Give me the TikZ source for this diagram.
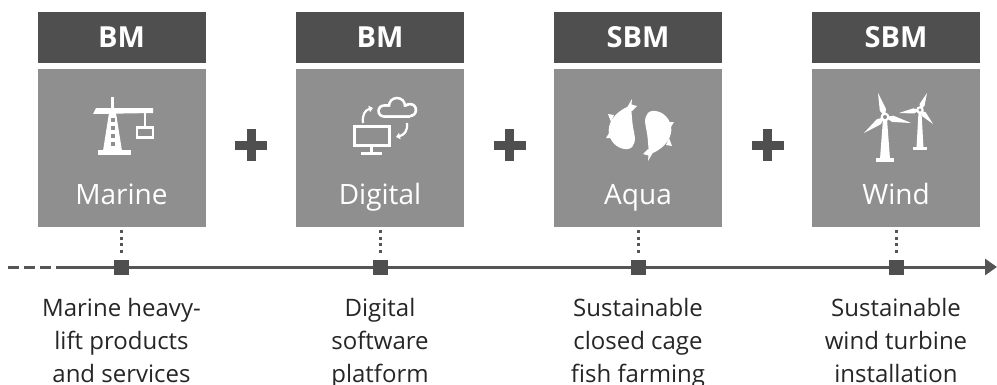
\documentclass[tikz,border=0pt]{standalone}
\usepackage{fontspec}
\setmainfont{Open Sans}
\usetikzlibrary{calc,arrows.meta}
\definecolor{hdr}{HTML}{4F4F4F}
\definecolor{bx}{HTML}{8F8F8F}
\definecolor{ln}{HTML}{555555}
\definecolor{txt}{HTML}{262626}
\begin{document}
\begin{tikzpicture}[x=1pt,y=-1pt,
  hdrbox/.style={fill=hdr, text=white, minimum width=168pt, minimum height=51pt, inner sep=0pt, font=\fontsize{29}{30}\selectfont\bfseries},
  mainbox/.style={fill=bx, minimum width=168pt, minimum height=158pt, inner sep=0pt},
  boxtext/.style={text=white, inner sep=0pt, anchor=base, font=\fontsize{28}{30}\selectfont},
  marker/.style={fill=hdr, minimum width=15pt, minimum height=15pt, inner sep=0pt},
  dotline/.style={ln, line width=3pt, dash pattern=on 3pt off 3.6pt, shorten <=3pt, shorten >=3pt},
  axisline/.style={ln, line width=3pt},
  plussign/.style={hdr, line width=9pt},
  desc/.style={text=txt, align=center, inner sep=0pt, anchor=base, font=\fontsize{24}{33}\selectfont},
  icon/.style={white}
]
\useasboundingbox (0,0) rectangle (997,384);

% timeline
\coordinate (t0) at (8,267);
\coordinate (t1) at (60,267);
\coordinate (tend) at (997,267);
\draw[axisline, dash pattern=on 11pt off 5pt] (t0) -- (t1);
\draw[axisline, -{Triangle[length=12pt,width=16pt]}] (t1) -- (tend);

\foreach \i/\x/\h/\t in {1/121.5/BM/Marine, 2/380/BM/Digital, 3/638/SBM/Aqua, 4/896/SBM/Wind}{
  \node[hdrbox] (h\i) at (\x,37.5) {\h};
  \node[mainbox] (b\i) at (\x,148) {};
  \node[boxtext] (m\i) at (\x,204) {\t};
  \node[marker] (s\i) at (\x,267) {};
  \draw[dotline] (b\i.south) -- (s\i.north);
}

% plus signs
\foreach \px in {251,509.5,767.5}{
  \draw[plussign] (\px,129) -- (\px,161) (\px-16,145) -- (\px+16,145);
}

% descriptions (base = last line)
\node[desc] (l1) at (121.5,382) {Marine heavy-\\lift products\\and services};
\node[desc] (l2) at (380,382) {Digital\\software\\platform};
\node[desc] (l3) at (638,382) {Sustainable\\closed cage\\fish farming};
\node[desc] (l4) at (896,382) {Sustainable\\wind turbine\\installation};

% crane icon
\fill[icon] (111,97) rectangle (114,109);
\fill[icon] (93,114) -- (96,108) -- (153,108) -- (153,113) -- cycle;
\fill[icon] (109,113) -- (116,113) -- (122,151) -- (103,151) -- cycle;
\foreach \yy in {118,126,134,142}{\fill[bx] (110.5,\yy) rectangle (114.5,\yy+4);}
\fill[icon] (98,150) rectangle (131,155);
\draw[icon, line width=2pt] (145,113) -- (145,127);
\draw[icon, line width=2.5pt] (137,127.5) rectangle (153,137.5);

% digital icon
\draw[icon, line width=3pt] (354,126) rectangle (389,145);
\draw[icon, line width=3pt] (371.5,145) -- (371.5,152);
\draw[icon, line width=3pt] (361,153) -- (382,153);
\fill[icon] (384,111) circle[radius=6.8pt] (397,106) circle[radius=9.3pt] (410,110) circle[radius=7.3pt] (384,104.2) rectangle (410,117.8);
\fill[bx] (384,111) circle[radius=4.2pt] (397,106) circle[radius=6.7pt] (410,110) circle[radius=4.7pt] (384,106.8) rectangle (410,115.2);
\draw[icon, line width=2.2pt, -{Triangle[length=4pt,width=6.5pt]}] (363,123) .. controls (362,115) and (365,110) .. (373,108);
\draw[icon, line width=2.2pt, -{Triangle[length=4pt,width=6.5pt]}] (407,123) .. controls (408,131) and (404,135) .. (396,137);

% fish icon
\foreach \rot in {0,180}{
\begin{scope}[rotate around={\rot:(640,130)}]
\fill[icon] (627,107) .. controls (614,113) and (607,124) .. (609,134) .. controls (611,144) and (620,150) .. (628,149) .. controls (635,148) and (636,139) .. (634,132) .. controls (632,124) and (632,115) .. (631,107) -- cycle;
\fill[icon] (625,111) -- (632,99) -- (631.5,104.5) -- (637,106) -- (632,111) -- cycle;
\fill[icon] (614,115) -- (608,114) -- (611,122) -- cycle;
\fill[icon] (611,130) -- (606,138) -- (614,138) -- cycle;
\end{scope}
}

% wind icon
\fill[icon] (883,119) -- (887,119) -- (890,159) -- (880,159) -- cycle;
\fill[icon] (876,158) rectangle (894,162);
\fill[icon] (918.5,112) -- (921.5,112) -- (923.5,148) -- (916.5,148) -- cycle;
\fill[icon] (913,146.5) rectangle (927,150);
\foreach \hx/\hy/\tx/\ty/\w in {885/117/878/93/3.2, 885/117/864/133/3.2, 885/117/911/123/3.2, 920/110/927/93/2.6, 920/110/899/113/2.6, 920/110/933/124/2.6}{
  \coordinate (hh) at (\hx,\hy);
  \coordinate (tt) at (\tx,\ty);
  \fill[icon] (hh) -- ($(hh)!0.3!(tt)!\w pt!90:(tt)$) -- (tt) -- ($(hh)!0.3!(tt)!\w pt!-90:(tt)$) -- cycle;
}
\fill[icon] (885,117) circle[radius=4.5pt];
\fill[bx] (885,117) circle[radius=2pt];
\fill[icon] (920,110) circle[radius=3.8pt];
\fill[bx] (920,110) circle[radius=1.6pt];
\end{tikzpicture}
\end{document}
